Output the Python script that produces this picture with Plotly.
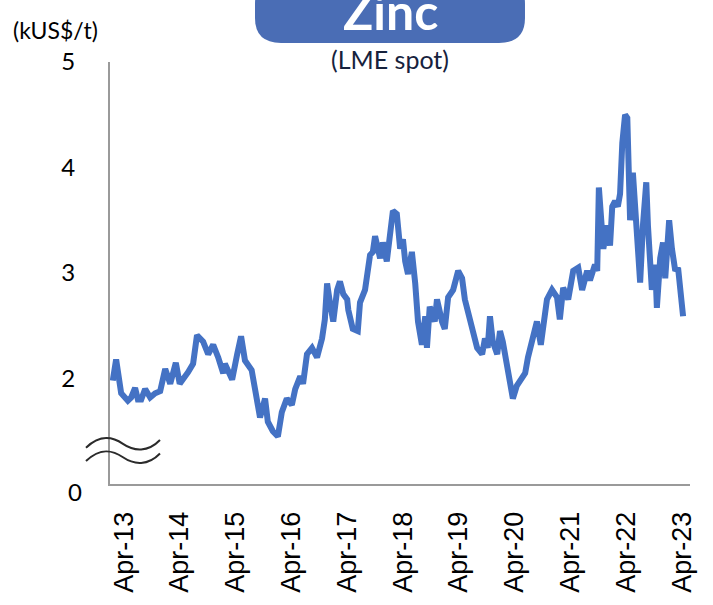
import pandas as pd
import plotly.graph_objects as go

# LME zinc spot price, kUS$/t, sampled along the series (decimal year, price)
years = [
    2013.05, 2013.11, 2013.20, 2013.32, 2013.38, 2013.45, 2013.50, 2013.56, 2013.63, 2013.72,
    2013.81, 2013.90, 2013.99, 2014.08, 2014.18, 2014.25, 2014.40, 2014.49, 2014.56, 2014.67,
    2014.76, 2014.85, 2014.94, 2015.03, 2015.06, 2015.19, 2015.28, 2015.35, 2015.42, 2015.54,
    2015.60, 2015.69, 2015.78, 2015.83, 2015.92, 2016.01, 2016.08, 2016.17, 2016.26, 2016.32,
    2016.41, 2016.46, 2016.53, 2016.62, 2016.71, 2016.80, 2016.85, 2016.89, 2016.94, 2017.00,
    2017.07, 2017.12, 2017.18, 2017.25, 2017.27, 2017.35, 2017.44, 2017.48, 2017.57, 2017.62,
    2017.66, 2017.71, 2017.75, 2017.84, 2017.89, 2017.96, 2018.02, 2018.07, 2018.14, 2018.20,
    2018.25, 2018.29, 2018.34, 2018.41, 2018.47, 2018.52, 2018.59, 2018.65, 2018.68, 2018.73,
    2018.82, 2018.86, 2018.95, 2019.00, 2019.06, 2019.15, 2019.24, 2019.31, 2019.36, 2019.42,
    2019.51, 2019.58, 2019.67, 2019.72, 2019.77, 2019.81, 2019.86, 2019.94, 2019.99, 2020.04,
    2020.11, 2020.17, 2020.22, 2020.29, 2020.35, 2020.44, 2020.49, 2020.58, 2020.65, 2020.72,
    2020.76, 2020.83, 2020.92, 2021.01, 2021.06, 2021.12, 2021.21, 2021.30, 2021.39, 2021.46,
    2021.55, 2021.60, 2021.69, 2021.73, 2021.76, 2021.84, 2021.91, 2021.96, 2022.00, 2022.05,
    2022.10, 2022.14, 2022.18, 2022.23, 2022.27, 2022.28, 2022.32, 2022.37, 2022.44, 2022.50,
    2022.55, 2022.61, 2022.64, 2022.71, 2022.77, 2022.80, 2022.86, 2022.91, 2022.95, 2023.02,
    2023.07, 2023.13, 2023.18, 2023.25, 2023.27,
]
prices = [
    1.98, 2.18, 1.86, 1.79, 1.82, 1.91, 1.80, 1.80, 1.90, 1.82,
    1.86, 1.88, 2.09, 1.95, 2.15, 1.95, 2.06, 2.14, 2.41, 2.35,
    2.23, 2.32, 2.20, 2.05, 2.14, 1.99, 2.23, 2.40, 2.17, 2.08,
    1.90, 1.63, 1.81, 1.59, 1.50, 1.45, 1.68, 1.81, 1.75, 1.90,
    2.02, 1.95, 2.23, 2.29, 2.20, 2.38, 2.56, 2.90, 2.72, 2.54,
    2.84, 2.92, 2.80, 2.75, 2.65, 2.47, 2.45, 2.72, 2.84, 3.08,
    3.17, 3.20, 3.35, 3.14, 3.29, 3.11, 3.44, 3.59, 3.56, 3.23,
    3.32, 3.11, 2.99, 3.20, 2.90, 2.54, 2.32, 2.59, 2.29, 2.68,
    2.54, 2.75, 2.54, 2.47, 2.77, 2.84, 3.02, 2.95, 2.75, 2.63,
    2.45, 2.29, 2.23, 2.38, 2.29, 2.59, 2.35, 2.23, 2.45, 2.35,
    2.14, 1.99, 1.81, 1.93, 1.99, 2.05, 2.20, 2.41, 2.54, 2.32,
    2.50, 2.75, 2.84, 2.77, 2.56, 2.86, 2.75, 3.02, 3.05, 2.84,
    3.02, 2.93, 3.08, 3.02, 3.81, 3.23, 3.45, 3.26, 3.63, 3.68,
    3.63, 3.75, 4.23, 4.50, 4.47, 4.05, 3.50, 3.95, 3.45, 2.91,
    3.45, 3.86, 3.45, 2.84, 3.08, 2.67, 3.14, 3.29, 2.95, 3.50,
    3.23, 3.02, 3.05, 2.77, 2.59,
]

# x-axis labels (April of each year)
tick_years = list(range(2013, 2024))
tick_labels = [f"Apr-{y % 100:02d}" for y in tick_years]

# y-axis labels; the axis is broken below 2, "0" marks its bottom end
y_ticks = [2, 3, 4, 5]
y_bottom = 1.0


def to_date(y):
    yr = int(y)
    start = pd.Timestamp(yr, 1, 1)
    end = pd.Timestamp(yr + 1, 1, 1)
    return start + (y - yr) * (end - start)


dates = [to_date(y) for y in years]

W, H = 713, 605
L, R, T, B = 110, 23, 62, 101
PW, PH = W - L - R, H - T - B


def px(x):
    return (x - L) / PW


def py(y):
    return (H - B - y) / PH


def wave(y0):
    """Tilde-shaped stroke marking the axis break (pixel space -> paper)."""
    pts = [(86, y0 + 4), (100, y0 - 10), (112, y0 - 8), (123, y0),
           (134, y0 + 8), (148, y0 + 9), (160, y0 - 4)]
    p = [f"{px(a):.4f},{py(b):.4f}" for a, b in pts]
    return f"M {p[0]} C {p[1]} {p[2]} {p[3]} C {p[4]} {p[5]} {p[6]}"


def pill(x0, x1, y0, y1, r):
    """Rounded rectangle in pixel space -> paper path."""
    def P(a, b):
        return f"{px(a):.4f},{py(b):.4f}"
    return (f"M {P(x0 + r, y0)} L {P(x1 - r, y0)} Q {P(x1, y0)} {P(x1, y0 + r)} "
            f"L {P(x1, y1 - r)} Q {P(x1, y1)} {P(x1 - r, y1)} L {P(x0 + r, y1)} "
            f"Q {P(x0, y1)} {P(x0, y1 - r)} L {P(x0, y0 + r)} Q {P(x0, y0)} {P(x0 + r, y0)} Z")


LABEL_FONT = "Lato, Carlito, sans-serif"

fig = go.Figure()
fig.add_trace(go.Scatter(
    x=dates, y=prices, mode="lines",
    line=dict(color="#4472C4", width=6),
    hoverinfo="x+y", showlegend=False,
))

fig.update_layout(
    width=W, height=H,
    margin=dict(l=L, r=R, t=T, b=B),
    paper_bgcolor="white", plot_bgcolor="white",
    xaxis=dict(
        range=[to_date(2013.0), to_date(2023.394)],
        tickmode="array",
        tickvals=[pd.Timestamp(y, 4, 1) for y in tick_years],
        ticktext=tick_labels,
        tickangle=-90,
        tickfont=dict(family="Liberation Sans, Arial", size=27, color="black"),
        showgrid=False, zeroline=False,
        showline=True, linecolor="#9a9a9a", linewidth=2,
        ticks="", ticklabelstandoff=15,
    ),
    yaxis=dict(
        range=[y_bottom, 5],
        tickmode="array",
        tickvals=y_ticks,
        ticktext=[str(v) for v in y_ticks],
        tickfont=dict(family=LABEL_FONT, size=24, color="black"),
        showgrid=False, zeroline=False,
        showline=True, linecolor="#9a9a9a", linewidth=2,
        ticks="", ticklabelstandoff=28,
    ),
    shapes=[
        dict(type="path", xref="paper", yref="paper", path=pill(255, 525, -25, 42, 26),
             fillcolor="#4A6DB5", line=dict(width=0), layer="above"),
        dict(type="path", xref="paper", yref="paper", path=wave(462),
             line=dict(color="#2b2b2b", width=2)),
        dict(type="path", xref="paper", yref="paper", path=wave(476),
             line=dict(color="#2b2b2b", width=2)),
    ],
    annotations=[
        dict(text="0", xref="paper", yref="paper", x=px(84), y=py(512),
             xanchor="right", yanchor="middle", showarrow=False,
             font=dict(family=LABEL_FONT, size=24, color="black")),
        dict(text="<b>Zinc</b>", xref="paper", yref="paper", x=px(390), y=py(42),
             xanchor="center", yanchor="bottom", showarrow=False,
             font=dict(family=LABEL_FONT, size=50, color="white")),
        dict(text="(LME spot)", xref="paper", yref="paper", x=px(390), y=py(59),
             xanchor="center", yanchor="middle", showarrow=False,
             font=dict(family=LABEL_FONT, size=25, color="#16223d")),
        dict(text="(kUS$/t)", xref="paper", yref="paper", x=px(55), y=py(28),
             xanchor="center", yanchor="middle", showarrow=False,
             font=dict(family=LABEL_FONT, size=23, color="black")),
    ],
)

fig.write_html("out.html")
